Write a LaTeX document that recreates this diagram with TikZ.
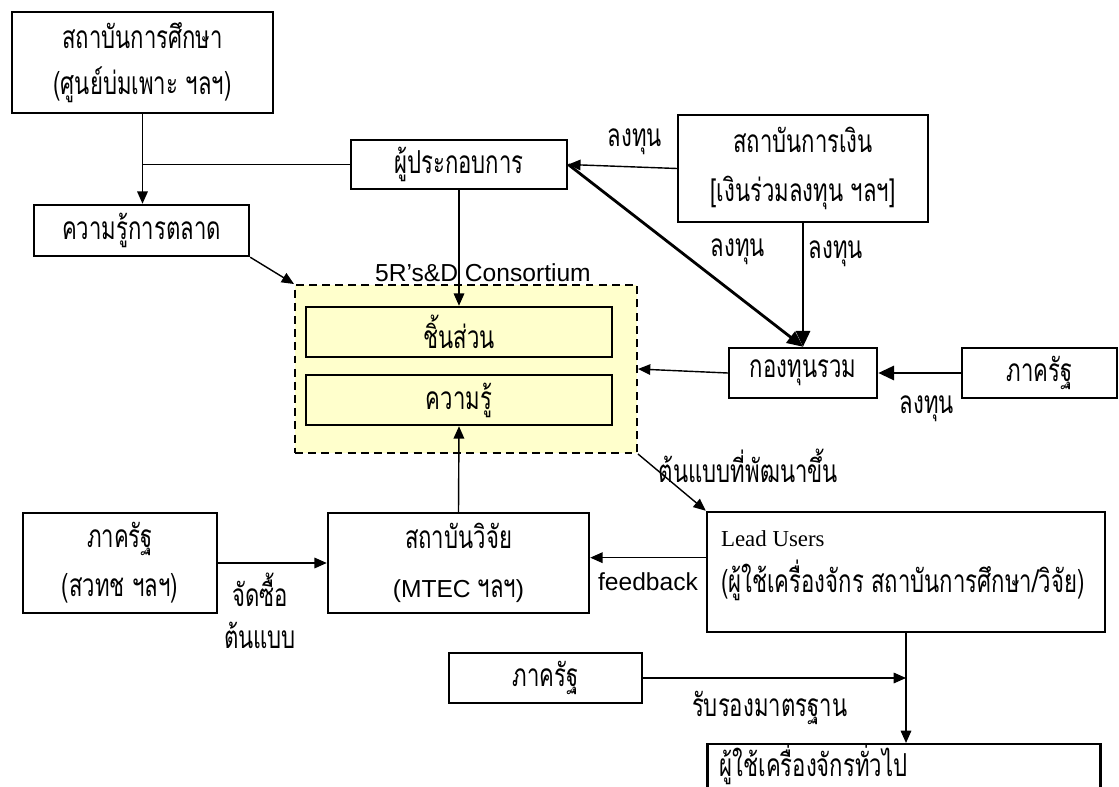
\documentclass[tikz,border=0pt]{standalone}
\usepackage{fontspec}
\setmainfont{Liberation Serif}
\newfontfamily\thai[Script=Thai, FakeStretch=0.7]{Loma}
\newfontfamily\sans{Liberation Sans}
\newcommand\latin{\sans\fontsize{14}{28}\selectfont}
\usetikzlibrary{arrows.meta,calc}
\definecolor{consyellow}{RGB}{255,255,204}

\begin{document}
\begin{tikzpicture}[
  box/.style={draw, line width=1.4pt, inner sep=0pt, align=center,
    font=\thai\fontsize{18}{26}\selectfont},
  arr/.style={-{Triangle[length=7pt,width=6pt]}, line width=0.8pt},
  heavy/.style={-{Triangle[length=9pt,width=8pt]}, line width=1.6pt},
  lbl/.style={font=\thai\fontsize{18}{24}\selectfont, align=center, inner sep=1pt}
]
\useasboundingbox (0,0) rectangle (22.38,-15.74);

% boxes
\node[box, minimum width=5.22cm, minimum height=2.02cm] (inst) at (2.85,-1.25) {สถาบันการศึกษา\\(ศูนย์บ่มเพาะ ฯลฯ)};
\node[box, minimum width=4.30cm, minimum height=1.02cm] (mkt) at (2.83,-4.61) {ความรู้การตลาด};
\node[box, minimum width=4.32cm, minimum height=0.98cm] (ent) at (9.18,-3.29) {ผู้ประกอบการ};
\node[box, minimum width=5.00cm, minimum height=2.14cm, font=\thai\fontsize{18}{28}\selectfont] (bank) at (16.06,-3.37) {สถาบันการเงิน\\{[}เงินร่วมลงทุน ฯลฯ{]}};

% consortium
\node[draw, line width=1.1pt, dash pattern=on 4.5pt off 3pt, fill=consyellow,
  minimum width=6.84cm, minimum height=3.36cm] (cons) at (9.32,-7.38) {};
\node[font=\sans\fontsize{14}{16}\selectfont, inner sep=0pt] (conslbl) at (9.66,-5.46) {5R’s\&D Consortium};
\node[box, fill=consyellow, minimum width=6.12cm, minimum height=1cm] (part) at (9.18,-6.64) {ชิ้นส่วน};
\node[box, fill=consyellow, minimum width=6.12cm, minimum height=1cm] (know) at (9.18,-8.00) {ความรู้};

\node[box, minimum width=2.96cm, minimum height=1cm] (fund) at (16.06,-7.46) {กองทุนรวม};
\node[box, minimum width=3.10cm, minimum height=1cm] (govR) at (20.79,-7.46) {ภาครัฐ};
\node[box, minimum width=3.88cm, minimum height=2cm, font=\thai\fontsize{18}{28}\selectfont] (govL) at (2.40,-11.26) {ภาครัฐ\\(สวทช ฯลฯ)};
\node[box, minimum width=5.22cm, minimum height=2cm, font=\thai\fontsize{18}{28}\selectfont] (res) at (9.17,-11.26) {สถาบันวิจัย\\{\latin (MTEC }ฯลฯ{\latin )}};
\node[box, minimum width=7.96cm, minimum height=2.4cm] (lead) at (18.12,-11.44) {};
\node[anchor=base west, align=left, inner sep=0pt, font=\fontsize{13}{26.6}\selectfont]
  (leadtxt) at ($(lead.north west)+(0.3,-1.64)$) {Lead Users\\\thai\fontsize{18}{26.6}\selectfont (ผู้ใช้เครื่องจักร สถาบันการศึกษา/วิจัย)};
\node[box, minimum width=3.86cm, minimum height=1cm] (govB) at (10.91,-13.56) {ภาครัฐ};
\node[box, anchor=north, minimum width=7.86cm, minimum height=1.2cm] (gen) at (18.08,-14.86) {};
\node[anchor=west, inner sep=0pt, font=\thai\fontsize{18}{26}\selectfont] (gentxt) at ($(gen.north west)+(0.26,-0.42)$) {ผู้ใช้เครื่องจักรทั่วไป};

% connectors
\draw[arr] (inst.south) -- (inst.south |- mkt.north);
\draw[line width=0.8pt] (inst.south |- ent.west) -- (ent.west);
\draw[arr] (mkt.south east) -- (cons.north west);
\draw[arr] (ent.south) -- (part.north);
\draw[arr] (bank.west) -- node[lbl, midway, xshift=0.25cm, yshift=0.49cm] {ลงทุน} (ent.east);
\draw[heavy] (ent.east) -- node[lbl, pos=0.48, xshift=1.14cm] {ลงทุน} (fund.north);
\draw[heavy] (bank.south) -- node[lbl, pos=0.25, right, xshift=0.05cm] {ลงทุน} (fund.north);
\draw[heavy] (govR.west) -- node[lbl, midway, xshift=0.15cm, yshift=-0.72cm] {ลงทุน} (fund.east);
\draw[arr] (fund.west) -- (cons.east);
\draw[arr] (cons.south east) -- node[lbl, pos=0.2, anchor=west, xshift=0.1cm] {ต้นแบบที่พัฒนาขึ้น} (lead.north west);
\draw[arr] (govL.east) -- node[lbl, midway, xshift=-0.25cm, yshift=-0.96cm] {จัดซื้อ\\ต้นแบบ} (res.west);
\draw[arr] (res.north) -- (know.south);
\coordinate (fb) at ($(lead.north west)!0.383!(lead.south west)$);
\draw[arr] (fb) -- node[midway, yshift=-0.48cm, font=\sans\fontsize{14}{16}\selectfont] {feedback} (fb -| res.east);
\draw[arr] (lead.south) -- (lead.south |- gen.north);
\draw[arr] (govB.east) -- node[lbl, midway, xshift=-0.1cm, yshift=-0.6cm] {รับรองมาตรฐาน} (govB.east -| lead.south);
\end{tikzpicture}
\end{document}
